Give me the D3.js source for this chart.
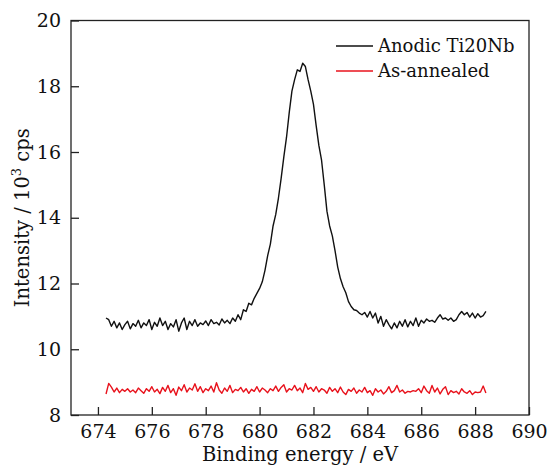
<!DOCTYPE html>
<html>
<head>
<meta charset="utf-8">
<script src="https://cdn.jsdelivr.net/npm/d3@7"></script>
<style>
  body { margin: 0; background: #fff; }
</style>
</head>
<body>
<div id="chart-area"></div>
<script>
// binding energy grid (eV), one point every 0.1 eV
var energyStart = 674.3;
var energyStep = 0.1;

// Anodic Ti20Nb, intensity (10^3 cps)
var anodic = [
  10.95, 10.9, 10.7, 10.85, 10.65, 10.8, 10.6, 10.75, 10.85, 10.62,
  10.78, 10.7, 10.88, 10.65, 10.8, 10.72, 10.9, 10.6, 10.82, 10.7,
  10.95, 10.72, 10.85, 10.6, 10.78, 10.68, 10.9, 10.55, 10.8, 10.95,
  10.6, 10.85, 10.72, 10.9, 10.7, 10.8, 10.75, 10.86, 10.72, 10.9,
  10.78, 10.82, 10.74, 10.92, 10.8, 10.88, 10.78, 10.95, 10.85, 11.05,
  10.9, 11.2, 11.15, 11.4, 11.35, 11.55, 11.7, 11.85, 12.05, 12.4,
  12.85, 13.2, 13.75, 14.1, 14.6, 15.2, 15.85, 16.45, 17.2, 17.85,
  18.2, 18.5, 18.45, 18.7, 18.6, 18.2, 17.85, 17.45, 16.8, 16.2,
  15.75, 15.0, 14.2, 13.75, 13.45, 13.0, 12.5, 12.15, 11.9, 11.72,
  11.45, 11.3, 11.2, 11.18, 11.1, 11.05, 11.12, 10.98, 11.15, 10.95,
  11.1, 10.8, 11.0, 10.7, 10.9, 10.75, 10.62, 10.8, 10.65, 10.85,
  10.7, 10.9, 10.68, 10.85, 10.72, 10.95, 10.7, 10.88, 10.8, 10.92,
  10.85, 10.88, 10.82, 10.95, 11.05, 10.92, 10.95, 10.88, 10.95, 10.85,
  10.9, 11.05, 11.15, 11.05, 11.12, 10.98, 11.1, 10.95, 11.08, 10.98,
  11.02, 11.15
];

// As-annealed
var annealed = [
  8.64, 8.96, 8.85, 8.7, 8.82, 8.68, 8.78, 8.72, 8.8, 8.7,
  8.76, 8.68, 8.82, 8.74, 8.66, 8.8, 8.72, 8.86, 8.7, 8.78,
  8.65, 8.84, 8.72, 8.9, 8.68, 8.8, 8.6, 8.85, 8.74, 8.92,
  8.7, 8.82, 8.76, 8.95, 8.72, 8.86, 8.68, 8.8, 8.74, 8.88,
  8.7, 8.98, 8.76, 8.66, 8.82, 8.72, 8.9, 8.68, 8.78, 8.74,
  8.84, 8.7, 8.8, 8.66, 8.78, 8.72, 8.86, 8.7, 8.82, 8.76,
  8.68, 8.8, 8.74, 8.88, 8.72, 8.84, 8.92, 8.7, 8.8, 8.76,
  8.9, 8.74, 8.82, 8.68, 8.96, 8.78, 8.84, 8.72, 8.86, 8.7,
  8.8, 8.76, 8.66, 8.84, 8.72, 8.8, 8.68, 8.85, 8.7, 8.62,
  8.78, 8.72, 8.82, 8.66, 8.76, 8.7, 8.84, 8.68, 8.74, 8.6,
  8.8, 8.7, 8.76, 8.64, 8.72, 8.86, 8.68, 8.74, 8.9, 8.7,
  8.76, 8.66, 8.72, 8.7, 8.74, 8.72, 8.8, 8.68, 8.88, 8.74,
  8.66, 8.9, 8.7, 8.82, 8.64, 8.78, 8.86, 8.62, 8.74, 8.68,
  8.72, 8.64, 8.8, 8.7, 8.66, 8.74, 8.62, 8.7, 8.68, 8.7,
  8.88, 8.67
];

var xTicks = [674, 676, 678, 680, 682, 684, 686, 688, 690];
var yTicks = [8, 10, 12, 14, 16, 18, 20];

var seriesNames = ["Anodic Ti20Nb", "As-annealed"];
var seriesColors = ["#111111", "#e8121c"];

var FONT = "'DejaVu Serif'";

//Margin
var margin = { top: 20.5, right: 19, bottom: 53, left: 71 };
var width = 548 - margin.left - margin.right;
var height = 468 - margin.top - margin.bottom;

var svg = d3.select("#chart-area")
    .append("svg")
    .attr("width", 548)
    .attr("height", 468)
    .style("font-family", FONT);

var g = svg.append("g")
    .attr("transform", "translate(" + margin.left + ", " + margin.top + ")");

// SCALES
var x = d3.scaleLinear().domain([673, 690]).range([0, width]);
var y = d3.scaleLinear().domain([8, 20]).range([height, 0]);

//AXIS
var xAxis = d3.axisBottom(x).tickValues(xTicks).tickSizeInner(-8).tickSizeOuter(0).tickPadding(10);
var yAxis = d3.axisLeft(y).tickValues(yTicks).tickSizeInner(-8).tickSizeOuter(0).tickPadding(10);

var xg = g.append("g").attr("transform", "translate(0, " + height + ")").call(xAxis);
var yg = g.append("g").call(yAxis);

[xg, yg].forEach(function (a) {
    a.attr("font-family", null).attr("font-size", null);
    a.select(".domain").remove();
    a.selectAll("line").attr("stroke", "#222").attr("stroke-width", 1.3);
    a.selectAll("text")
        .attr("fill", "#111")
        .style("font-family", FONT)
        .style("font-size", "19px");
});

// frame
g.append("rect")
    .attr("x", 0).attr("y", 0)
    .attr("width", width).attr("height", height)
    .attr("fill", "none")
    .attr("stroke", "#222")
    .attr("stroke-width", 1.3);

// LINES
var line = d3.line()
    .x(function (d, i) { return x(energyStart + i * energyStep); })
    .y(function (d) { return y(d); });

[anodic, annealed].forEach(function (s, k) {
    g.append("path")
        .datum(s)
        .attr("fill", "none")
        .attr("stroke", seriesColors[k])
        .attr("stroke-width", 1.4)
        .attr("stroke-linejoin", "round")
        .attr("d", line);
});

// LEGEND
var legend = svg.append("g");
seriesNames.forEach(function (name, k) {
    var ly = 46 + k * 25;
    legend.append("line")
        .attr("x1", 336).attr("x2", 373)
        .attr("y1", ly).attr("y2", ly)
        .attr("stroke", seriesColors[k])
        .attr("stroke-width", 1.3);
    legend.append("text")
        .attr("x", 378).attr("y", ly)
        .attr("dy", "0.36em")
        .style("font-family", FONT)
        .style("font-size", "18px")
        .attr("fill", "#111")
        .text(name);
});

// LABELS
svg.append("text")
    .attr("x", margin.left + width / 2)
    .attr("y", 461)
    .attr("text-anchor", "middle")
    .style("font-family", FONT)
    .style("font-size", "19.5px")
    .attr("fill", "#111")
    .text("Binding energy / eV");

var yLabel = svg.append("text")
    .attr("transform", "translate(29, " + (margin.top + height / 2) + ") rotate(-90)")
    .attr("text-anchor", "middle")
    .style("font-family", FONT)
    .style("font-size", "19.5px")
    .attr("fill", "#111");
yLabel.append("tspan").text("Intensity / 10");
yLabel.append("tspan").style("font-size", "13px").attr("dy", "-8").text("3");
yLabel.append("tspan").attr("dy", "8").text(" cps");
</script>
</body>
</html>
